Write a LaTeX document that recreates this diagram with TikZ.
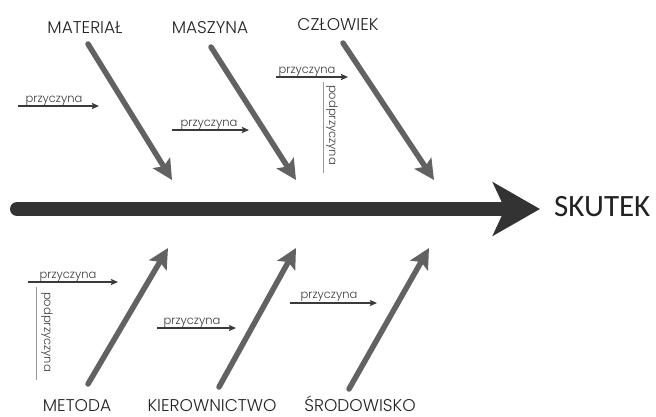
\documentclass[tikz,border=0pt]{standalone}
\usepackage{fontspec}
\setmainfont{Poppins Light}
\newfontfamily\effectfont{Carlito}
\usetikzlibrary{arrows.meta}
\definecolor{branchgray}{HTML}{626262}
\definecolor{spine}{HTML}{333333}
\definecolor{txtcol}{HTML}{222222}
\definecolor{causegray}{HTML}{3A3A3A}
\definecolor{subgray}{HTML}{999999}
\tikzset{
  spinearrow/.style={line width=14pt, draw=spine, line cap=round, -{Stealth[length=47pt,width=53pt,inset=12pt]}},
  brancharrow/.style={line width=5.5pt, draw=branchgray, line cap=round, -{Stealth[length=20pt,width=20pt,inset=4pt]}},
  causearrow/.style={line width=1.4pt, draw=causegray, -{Stealth[length=7pt,width=6pt,inset=1pt]}},
  subline/.style={line width=1pt, draw=subgray},
  cat/.style={font=\fontsize{17}{19}\selectfont, text=txtcol, inner sep=0pt, anchor=base},
  causetxt/.style={font=\fontsize{11.5}{13}\selectfont, text=causegray, inner sep=0pt, anchor=base},
  subtxt/.style={font=\fontsize{11.5}{13}\selectfont, text=causegray, inner sep=0pt, rotate=-90},
}
\begin{document}
\begin{tikzpicture}[x=1pt,y=-1pt]
\useasboundingbox (0,0) rectangle (656,416);
% spine
\coordinate (s0) at (17,209);
\coordinate (s1) at (540,209);
\draw[spinearrow] (s0) -- (s1);
\node[font=\effectfont\fontsize{31}{34}\selectfont, text=txtcol, inner sep=0pt, anchor=west] (skutek) at (554,207) {SKUTEK};
% top categories
\node[cat] (material) at (85,33) {MATERIAŁ};
\node[cat] (maszyna) at (210,33) {MASZYNA};
\node[cat] (czlowiek) at (338,30) {CZŁOWIEK};
\coordinate (m0) at (88,44); \coordinate (m1) at (172,180);
\coordinate (z0) at (211,47); \coordinate (z1) at (296,180);
\coordinate (c0) at (343,43); \coordinate (c1) at (434,180);
\draw[brancharrow] (m0) -- (m1);
\draw[brancharrow] (z0) -- (z1);
\draw[brancharrow] (c0) -- (c1);
% bottom categories
\node[cat] (metoda) at (77,411) {METODA};
\node[cat] (kier) at (212,411) {KIEROWNICTWO};
\node[cat] (srod) at (360,411) {ŚRODOWISKO};
\coordinate (t0) at (88,384); \coordinate (t1) at (168,248);
\coordinate (k0) at (219,387); \coordinate (k1) at (296,248);
\coordinate (r0) at (349,389); \coordinate (r1) at (429,248);
\draw[brancharrow] (t0) -- (t1);
\draw[brancharrow] (k0) -- (k1);
\draw[brancharrow] (r0) -- (r1);
% causes top
\coordinate (p1a) at (18,106); \coordinate (p1b) at (99,106);
\draw[causearrow] (p1a) -- (p1b);
\node[causetxt] (p1) at (54,102) {przyczyna};
\coordinate (p2a) at (172,130); \coordinate (p2b) at (249,130);
\draw[causearrow] (p2a) -- (p2b);
\node[causetxt] (p2) at (209,126) {przyczyna};
\coordinate (p3a) at (276,77); \coordinate (p3b) at (348,77);
\draw[causearrow] (p3a) -- (p3b);
\node[causetxt] (p3) at (307,73) {przyczyna};
\coordinate (v3a) at (323,82); \coordinate (v3b) at (323,173);
\draw[subline] (v3a) -- (v3b);
\node[subtxt] (sp3) at (332,125) {podprzyczyna};
% causes bottom
\coordinate (q1a) at (28,282); \coordinate (q1b) at (118,282);
\draw[causearrow] (q1a) -- (q1b);
\node[causetxt] (q1) at (68,278) {przyczyna};
\coordinate (w1a) at (36,287); \coordinate (w1b) at (36,380);
\draw[subline] (w1a) -- (w1b);
\node[subtxt] (sq1) at (47,332) {podprzyczyna};
\coordinate (q2a) at (157,328); \coordinate (q2b) at (236,328);
\draw[causearrow] (q2a) -- (q2b);
\node[causetxt] (q2) at (192,324) {przyczyna};
\coordinate (q3a) at (290,303); \coordinate (q3b) at (377,303);
\draw[causearrow] (q3a) -- (q3b);
\node[causetxt] (q3) at (329,298) {przyczyna};
\end{tikzpicture}
\end{document}
